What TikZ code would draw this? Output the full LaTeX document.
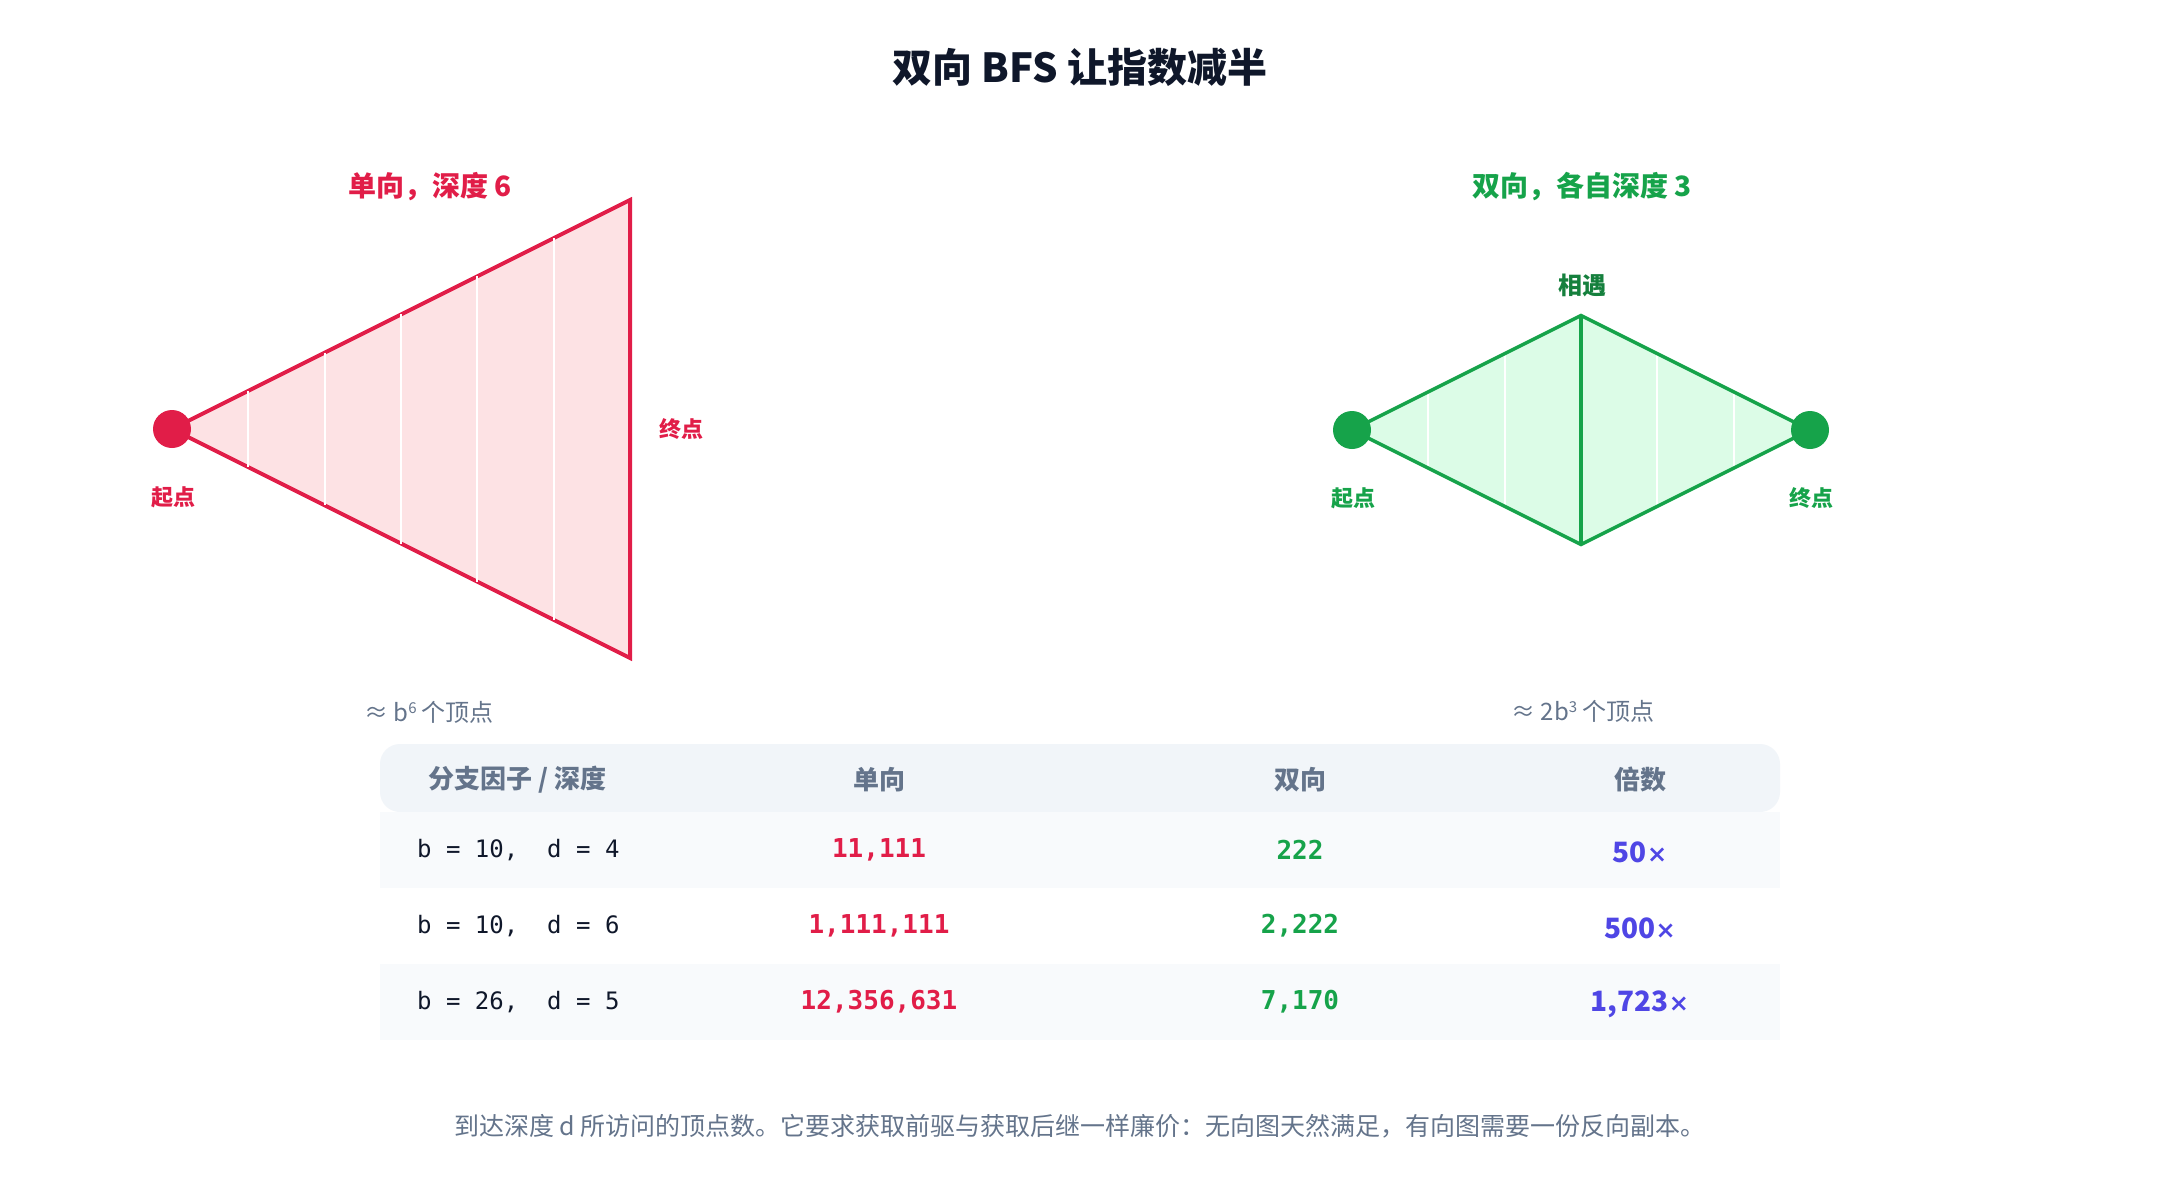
\documentclass[tikz,border=0pt]{standalone}
\usepackage{fontspec}
\setmainfont{Noto Sans CJK SC}
\setmonofont{DejaVu Sans Mono}
\newfontfamily\signfont{DejaVu Sans}
\usetikzlibrary{positioning}

\definecolor{ink}{HTML}{0F172A}
\definecolor{slate}{HTML}{64748B}
\definecolor{rose}{HTML}{E11D48}
\definecolor{rosefill}{HTML}{FDE2E4}
\definecolor{leaf}{HTML}{16A34A}
\definecolor{leafdark}{HTML}{15803D}
\definecolor{leaffill}{HTML}{DCFCE7}
\definecolor{indigo}{HTML}{4F46E5}
\definecolor{headbg}{HTML}{F1F5F9}
\definecolor{rowbg}{HTML}{F8FAFC}

\newcommand{\fs}[1]{\fontsize{#1}{#1}\selectfont}
\newcommand{\supnum}[1]{\raisebox{8pt}{\fs{15}#1}}
\newcommand{\timessign}{{\signfont\bfseries\fs{24}×}}

\tikzset{
  txt/.style={inner sep=0pt, anchor=center},
  heading/.style={txt, font=\fs{28}\bfseries},
  ptlabel/.style={txt, font=\fs{22}\bfseries},
  dot/.style={circle, inner sep=0pt, minimum size=38pt},
  note/.style={txt, font=\fs{24}, text=slate},
  colhead/.style={txt, font=\fs{26}\bfseries, text=slate},
  cfg/.style={inner sep=0pt, anchor=west, font=\fs{24}\ttfamily, text=ink},
  count/.style={txt, font=\fs{26}\ttfamily\bfseries},
  ratio/.style={txt, font=\fs{28}\bfseries, text=indigo},
}

\begin{document}
\begin{tikzpicture}[x=1pt, y=-1pt]
		%%%%% START %%%%%
		\useasboundingbox (0,0) rectangle (2160,1200);
		\fill[white] (0,0) rectangle (2160,1200);
		
		\node[txt, font=\fs{40}\bfseries, text=ink] (title) at (1080,67) {双向 BFS 让指数减半};
		
		%% one-way search
		\node[heading, text=rose] (uniHead) at (430,187) {单向，深度 6};
		\coordinate (uS) at (172,429);
		\coordinate (uT) at (630,200);
		\coordinate (uB) at (630,658);
		\fill[rosefill] (uS) -- (uT) -- (uB) -- cycle;
		\draw[rose, line width=4pt] (uS) -- (uT) -- (uB) -- cycle;
		\foreach \k in {1,...,5}
			\draw[white, line width=2pt] ({172+\k*76.33},{429-\k*38.17}) -- ({172+\k*76.33},{429+\k*38.17});
		\node[dot, fill=rose] (uStart) at (uS) {};
		\node[ptlabel, text=rose] (uStartLbl) at (173,497) {起点};
		\node[ptlabel, text=rose] (uEndLbl) at (681,429) {终点};
		\node[note] (uNote) at (429,712) {≈ b\supnum{6} 个顶点};
		
		%% two-way search
		\node[heading, text=leaf] (biHead) at (1582,187) {双向，各自深度 3};
		\coordinate (bS) at (1352,430);
		\coordinate (bT) at (1581,315.5);
		\coordinate (bE) at (1810,430);
		\coordinate (bB) at (1581,544.5);
		\fill[leaffill] (bS) -- (bT) -- (bE) -- (bB) -- cycle;
		\foreach \k in {1,2} {
			\draw[white, line width=2pt] ({1352+\k*76.33},{430-\k*38.17}) -- ({1352+\k*76.33},{430+\k*38.17});
			\draw[white, line width=2pt] ({1810-\k*76.33},{430-\k*38.17}) -- ({1810-\k*76.33},{430+\k*38.17});
		}
		\draw[leaf, line width=3.5pt] (bS) -- (bT) -- (bE) -- (bB) -- cycle;
		\draw[leaf, line width=3.5pt] (bT) -- (bB);
		\node[dot, fill=leaf] (bStart) at (bS) {};
		\node[dot, fill=leaf] (bEnd) at (bE) {};
		\node[txt, font=\fs{24}\bfseries, text=leafdark] (meet) at (1582,285) {相遇};
		\node[ptlabel, text=leaf] (bStartLbl) at (1353,498) {起点};
		\node[ptlabel, text=leaf] (bEndLbl) at (1811,498) {终点};
		\node[note] (bNote) at (1583,711) {≈ 2b\supnum{3} 个顶点};
		
		%% table
		\fill[headbg, rounded corners=20pt] (380,744) rectangle (1780,812);
		\fill[rowbg] (380,812) rectangle (1780,888);
		\fill[rowbg] (380,964) rectangle (1780,1040);
		
		\node[colhead, anchor=west] (hCfg) at (428,780) {分支因子 / 深度};
		\node[colhead] (hUni) at (879,780) {单向};
		\node[colhead] (hBi) at (1300,780) {双向};
		\node[colhead] (hRat) at (1640,780) {倍数};
		
		\node[cfg] (c1) at (417,850) {b = 10,~ d = 4};
		\node[count, text=rose] (u1) at (879,850) {11,111};
		\node[count, text=leaf] (b1) at (1300,850) {222};
		\node[ratio] (r1) at (1640,852) {50\timessign};
		
		\node[cfg] (c2) at (417,926) {b = 10,~ d = 6};
		\node[count, text=rose] (u2) at (879,926) {1,111,111};
		\node[count, text=leaf] (b2) at (1300,926) {2,222};
		\node[ratio] (r2) at (1640,928) {500\timessign};
		
		\node[cfg] (c3) at (417,1002) {b = 26,~ d = 5};
		\node[count, text=rose] (u3) at (879,1002) {12,356,631};
		\node[count, text=leaf] (b3) at (1300,1002) {7,170};
		\node[ratio] (r3) at (1640,1004) {1,723\timessign};
		
		\node[note, font=\fs{25}] (foot) at (1080,1126) {到达深度 d 所访问的顶点数。它要求获取前驱与获取后继一样廉价：无向图天然满足，有向图需要一份反向副本。};
		%%%%% END %%%%%
\end{tikzpicture}
\end{document}
